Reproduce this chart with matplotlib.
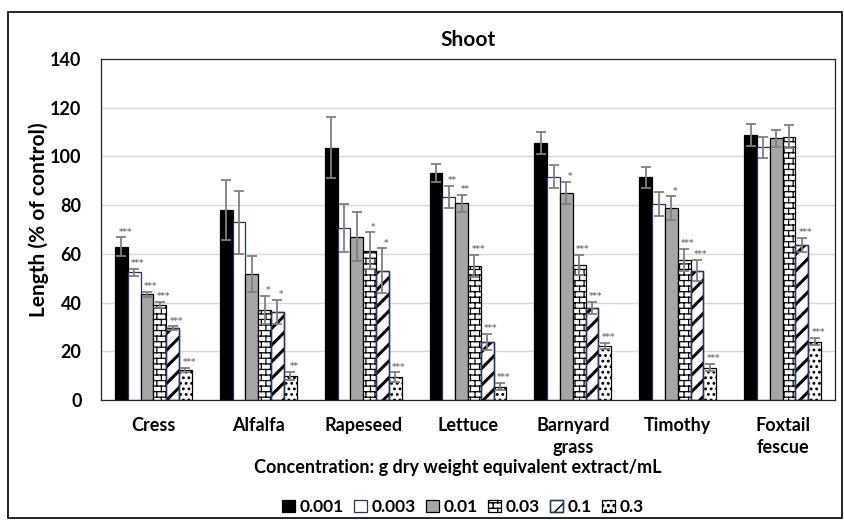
import warnings
import numpy as np
import matplotlib
matplotlib.use('Agg')
import matplotlib.pyplot as plt
from matplotlib import hatch as mhatch
from matplotlib.path import Path
from matplotlib.patches import Rectangle
from matplotlib.legend_handler import HandlerTuple

warnings.filterwarnings('ignore')

# ---------------- data ----------------
categories = ['Cress', 'Alfalfa', 'Rapeseed', 'Lettuce', 'Barnyard\ngrass',
              'Timothy', 'Foxtail\nfescue']
concentrations = ['0.001', '0.003', '0.01', '0.03', '0.1', '0.3']

len_0001 = [62.9, 78.0, 103.6, 93.1, 105.6, 91.4, 108.8]
err_0001 = [3.9, 12.2, 12.4, 3.6, 4.5, 4.4, 4.5]
len_0003 = [52.4, 73.0, 70.5, 83.5, 91.7, 80.6, 103.7]
err_0003 = [1.4, 13.0, 9.9, 4.5, 4.8, 4.9, 4.4]
len_001 = [43.4, 51.7, 67.0, 80.7, 85.1, 78.8, 107.4]
err_001 = [1.0, 7.3, 10.0, 3.4, 4.5, 4.8, 3.4]
len_003 = [39.0, 36.9, 61.3, 55.0, 55.4, 57.5, 108.1]
err_003 = [1.4, 5.8, 7.5, 4.5, 4.1, 4.4, 4.8]
len_01 = [29.4, 36.0, 53.1, 23.9, 37.9, 53.1, 63.6]
err_01 = [0.8, 5.0, 9.2, 3.4, 2.5, 4.4, 3.0]
len_03 = [12.3, 9.9, 9.3, 5.5, 22.2, 13.3, 23.9]
err_03 = [1.0, 1.8, 2.0, 1.4, 1.4, 1.5, 1.5]

sig_0001 = ['***', '', '', '', '', '', '']
sig_0003 = ['***', '', '', '**', '', '', '']
sig_001 = ['***', '', '', '**', '*', '*', '']
sig_003 = ['***', '*', '*', '***', '***', '***', '']
sig_01 = ['***', '*', '*', '***', '***', '***', '***']
sig_03 = ['***', '**', '***', '***', '***', '***', '***']

values = [len_0001, len_0003, len_001, len_003, len_01, len_03]
errors = [err_0001, err_0003, err_001, err_003, err_01, err_03]
sigs = [sig_0001, sig_0003, sig_001, sig_003, sig_01, sig_03]


# ---------------- custom hatches (Excel brick / confetti) ----------------
class BrickHatch(mhatch.HatchPatternBase):
    def __init__(self, hatch, density):
        self.rows = int(hatch.count('b') * density)
        self.cols = int(round(self.rows * 0.6))
        if self.rows:
            self.num_vertices = self.rows * 2 + (self.rows + 1) * self.cols * 2
        else:
            self.num_vertices = 0

    def set_vertices_and_codes(self, vertices, codes):
        r, c = self.rows, self.cols
        i = 0
        for k in range(r):
            y = (k + 0.5) / r
            vertices[i] = (0.0, y)
            vertices[i + 1] = (1.0, y)
            codes[i] = Path.MOVETO
            codes[i + 1] = Path.LINETO
            i += 2
        for k in range(-1, r):
            y0 = (k + 0.5) / r
            y1 = (k + 1.5) / r
            shift = 0.5 * (k % 2)
            for j in range(c):
                xv = (j + 0.25 + shift) / c
                vertices[i] = (xv, y0)
                vertices[i + 1] = (xv, y1)
                codes[i] = Path.MOVETO
                codes[i + 1] = Path.LINETO
                i += 2


class ConfettiHatch(mhatch.Circles):
    size = 0.17
    filled = True

    def __init__(self, hatch, density):
        self.num_rows = int(hatch.count('c') * density)
        super().__init__(hatch, density)


mhatch._hatch_types.extend([BrickHatch, ConfettiHatch])

# ---------------- style ----------------
FONT = ['Lato', 'DejaVu Sans']
plt.rcParams['font.family'] = FONT
plt.rcParams['font.weight'] = 'bold'

navy = '#1f3864'
styles = [
    dict(color='black', edgecolor='black', hatch=None, hlw=1.0, outline=None),
    dict(color='white', edgecolor=navy, hatch=None, hlw=1.0, outline=None),
    dict(color='#a6a6a6', edgecolor='black', hatch=None, hlw=1.0, outline=None),
    dict(color='white', edgecolor='black', hatch='bbb', hlw=0.9, outline=None),
    dict(color='white', edgecolor='black', hatch='//', hlw=2.2, outline=navy),
    dict(color='white', edgecolor='black', hatch='ccc', hlw=0.7, outline=None),
]

fig = plt.figure(figsize=(8.44, 5.2), dpi=100)
W, H = 844, 520
ax = fig.add_axes([101 / W, 1 - 400 / H, (835 - 101) / W, (400 - 59) / H])

x = np.arange(len(categories))
bw = 0.122
handles = []
for i, (vals, errs, st) in enumerate(zip(values, errors, styles)):
    pos = x + (i - 2.5) * bw
    with plt.rc_context({'hatch.linewidth': st['hlw']}):
        bc = ax.bar(pos, vals, width=bw, color=st['color'],
                    edgecolor=st['edgecolor'], hatch=st['hatch'],
                    linewidth=0.9, label=concentrations[i], zorder=2)
    for p in bc.patches:
        if hasattr(p, 'set_hatch_linewidth'):
            p.set_hatch_linewidth(st['hlw'])
    if st['outline']:
        oc = ax.bar(pos, vals, width=bw, fill=False, edgecolor=st['outline'],
                    linewidth=1.0, zorder=2.1)
        handles.append((bc, oc))
    else:
        handles.append(bc)
    ax.errorbar(pos, vals, yerr=errs, fmt='none', ecolor='#808080',
                elinewidth=1.3, capsize=3.6, capthick=1.3, zorder=3)
    for xp, v, e, s in zip(pos, vals, errors[i], sigs[i]):
        if s:
            ax.text(xp + 0.3 * bw, v + e + 0.3, s, ha='center', va='bottom',
                    fontsize=6.2, color='#7a7a7a', family='DejaVu Sans',
                    fontweight='bold', zorder=4)

ax.set_xlim(-0.5, len(categories) - 0.5)
ax.set_ylim(0, 140)
ax.set_yticks(np.arange(0, 141, 20))
ax.yaxis.grid(True, color='#d9d9d9', linewidth=1.0)
ax.set_axisbelow(True)
ax.set_xticks(x)
ax.set_xticklabels(categories, fontsize=13, fontweight='bold', linespacing=1.35)
ax.tick_params(axis='both', length=0)
ax.tick_params(axis='x', pad=12)
ax.tick_params(axis='y', pad=14, labelsize=13)
for lab in ax.get_yticklabels():
    lab.set_fontweight('bold')
for sp in ax.spines.values():
    sp.set_color('#262626')
    sp.set_linewidth(0.9)

fig.text(468 / W, 1 - 40 / H, 'Shoot', ha='center', va='center',
         fontsize=15, fontweight='bold')
fig.text(39 / W, 1 - 220 / H, 'Length (% of control)', rotation=90,
         ha='center', va='center', fontsize=15, fontweight='bold')
fig.text(458 / W, 1 - 467 / H,
         'Concentration: g dry weight equivalent extract/mL',
         ha='center', va='center', fontsize=13, fontweight='bold')

leg = fig.legend(handles=handles, labels=concentrations, ncol=6,
                 loc='center', bbox_to_anchor=(463 / W, 1 - 507 / H),
                 frameon=False, fontsize=12.5, handlelength=0.75,
                 handleheight=0.75, handletextpad=0.25, columnspacing=0.6,
                 borderpad=0.1, handler_map={tuple: HandlerTuple(ndivide=1)})
for h in leg.legend_handles:
    if hasattr(h, 'set_hatch_linewidth'):
        h.set_hatch_linewidth(1.0)

# outer chart border
fig.patches.append(Rectangle((8 / W, 2 / H), (W - 10) / W, (H - 14) / H,
                             transform=fig.transFigure, fill=False,
                             edgecolor='black', linewidth=1.2))

fig.savefig('out.png', dpi=100)
